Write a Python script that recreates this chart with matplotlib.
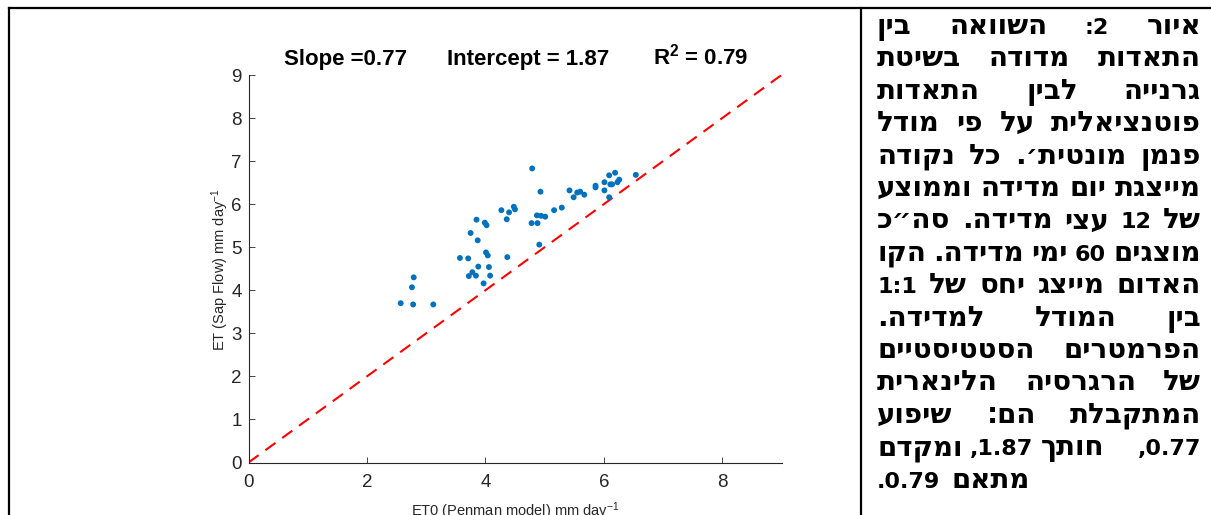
import matplotlib
matplotlib.use("Agg")
import matplotlib.pyplot as plt
from matplotlib.lines import Line2D

plt.rcParams['font.family'] = ['Liberation Sans', 'DejaVu Sans']
plt.rcParams['mathtext.fontset'] = 'custom'
plt.rcParams['mathtext.rm'] = 'Liberation Sans'
plt.rcParams['mathtext.it'] = 'Liberation Sans:italic'
plt.rcParams['mathtext.bf'] = 'Liberation Sans:bold'

# measured days: ET0 (Penman) vs ET (sap flow), mm/day
et0 = [2.57, 2.78, 2.76, 2.79, 3.12, 3.57, 3.71, 3.75, 3.85, 3.87, 3.99, 4.02,
       4.01, 4.04, 3.72, 3.78, 3.84, 3.88, 3.97, 4.06, 4.08, 4.37, 4.27, 4.40,
       4.36, 4.48, 4.50, 4.79, 4.93, 4.78, 4.88, 4.87, 4.94, 5.01, 4.91, 5.16,
       5.29, 5.42, 5.49, 5.55, 5.60, 5.67, 5.86, 5.86, 6.01, 6.01, 6.09, 6.11,
       6.14, 6.19, 6.23, 6.26, 6.09, 6.54]
et_sap = [3.70, 3.67, 4.07, 4.30, 3.67, 4.75, 4.74, 5.33, 5.64, 5.16, 5.57, 5.51,
          4.88, 4.81, 4.33, 4.42, 4.34, 4.55, 4.16, 4.54, 4.34, 4.77, 5.86, 5.81,
          5.65, 5.94, 5.88, 6.83, 6.29, 5.56, 5.56, 5.74, 5.73, 5.71, 5.06, 5.86,
          5.92, 6.32, 6.16, 6.27, 6.29, 6.22, 6.43, 6.39, 6.51, 6.32, 6.67, 6.46,
          6.46, 6.73, 6.51, 6.57, 6.16, 6.68]
one_to_one = [0, 9]

x_ticks = [0, 2, 4, 6, 8]
y_ticks = list(range(10))
stats = ["Slope =0.77", "Intercept = 1.87", r"$\mathbf{R^2}$ = 0.79"]

# caption in logical (reading) order; spaces are justified, NBSP keeps natural spacing
caption_lines = [
    "איור 2: השוואה בין",
    "התאדות מדודה בשיטת",
    "גרנייה לבין התאדות",
    "פוטנציאלית על פי מודל",
    "פנמן מונטית׳. כל נקודה",
    "מייצגת יום מדידה וממוצע",
    "של 12 עצי מדידה. סה״כ",
    "מוצגים 60 ימי מדידה. הקו",
    "האדום מייצג יחס של 1:1",
    "בין המודל למדידה.",
    "הפרמטרים הסטטיסטיים",
    "של הרגרסיה הלינארית",
    "המתקבלת הם: שיפוע",
    "0.77, חותך\u00a01.87,\u00a0ומקדם",
    "מתאם 0.79.",
]

W, H = 1211, 515
fig = plt.figure(figsize=(W / 100, H / 100), dpi=100)

def px(x, y):
    return x / W, 1 - y / H

# axes box in pixels
ax_l, ax_r, ax_t, ax_b = 248.5, 781.5, 75, 462.5
ax = fig.add_axes([ax_l / W, 1 - ax_b / H, (ax_r - ax_l) / W, (ax_b - ax_t) / H])

ax.plot(one_to_one, one_to_one, color='red', ls=(0, (6, 4)), lw=1.5, zorder=2)
ax.scatter(et0, et_sap, s=18, color='#0072BD', edgecolors='none', zorder=3)

ax.set_xlim(0, 9)
ax.set_ylim(0, 9)
ax.set_xticks(x_ticks)
ax.set_yticks(y_ticks)
for s in ['top', 'right']:
    ax.spines[s].set_visible(False)
for s in ['left', 'bottom']:
    ax.spines[s].set_color('#262626')
    ax.spines[s].set_linewidth(0.8)
ax.tick_params(direction='in', length=4.5, width=0.6, colors='#262626',
               labelsize=13.5)
ax.tick_params(axis='y', pad=5)
ax.tick_params(axis='x', pad=8)

for txt, xf in zip(stats, [0.0657, 0.373, 0.758]):
    ax.text(xf, (ax_b - 65) / (ax_b - ax_t), txt, transform=ax.transAxes,
            fontsize=16, fontweight='bold', ha='left', va='baseline')

fig.text(*px(220, 270), "ET (Sap Flow) mm day$^{-1}$", rotation=90,
         fontsize=10.5, color='#262626', ha='center', va='center')
fig.text(*px(515, 516), "ET0 (Penman model) mm day$^{-1}$",
         fontsize=10.5, color='#262626', ha='center', va='baseline')

# table borders
lw_b = 1.6
fig.add_artist(Line2D([9 / W, 1], [1 - 8 / H] * 2, color='black', lw=lw_b,
                      transform=fig.transFigure))
fig.add_artist(Line2D([9 / W] * 2, [0, 1 - 8 / H], color='black', lw=lw_b,
                      transform=fig.transFigure))
fig.add_artist(Line2D([861 / W] * 2, [0, 1 - 8 / H], color='black', lw=lw_b,
                      transform=fig.transFigure))


def is_heb(s):
    return any('\u0590' <= c <= '\u05ff' for c in s)


def visual(tok):
    # glyph order for one word inside right-to-left text
    if is_heb(tok):
        return tok[::-1]
    core = tok.rstrip('.,:')
    tail = tok[len(core):]
    return tail[::-1] + core


def style(tok):
    size = 20 if is_heb(tok) else 16
    return dict(fontsize=size, fontweight='bold', family=['DejaVu Sans'])


renderer = fig.canvas.get_renderer()


def text_width(s, **kw):
    t = fig.text(0, 0, s, **kw)
    w = t.get_window_extent(renderer).width
    t.remove()
    return w


sty = dict(fontsize=16, fontweight='bold', family=['DejaVu Sans'])
space = text_width("a a", **sty) - text_width("aa", **sty)


def word_width(word):
    return text_width(visual(word), **style(word))


def chunk_width(chunk):
    words = chunk.split('\u00a0')
    return sum(word_width(w) for w in words) + space * (len(words) - 1)


def place_chunk(chunk, x_right, base):
    # words of one chunk, right-to-left with natural spacing
    x = x_right
    for word in chunk.split('\u00a0'):
        w = word_width(word)
        fig.text(*px(x - w, base), visual(word), ha='left', va='baseline',
                 **style(word))
        x -= w + space


L, R = 877, 1201
y0, dy = 34, 32.4
for i, line in enumerate(caption_lines):
    chunks = line.split(' ')
    widths = [chunk_width(c) for c in chunks]
    base = y0 + i * dy
    if i == len(caption_lines) - 1 or len(chunks) == 1:
        gap = space * 1.5
        x = L + sum(widths) + gap * (len(chunks) - 1)
    else:
        gap = (R - L - sum(widths)) / (len(chunks) - 1)
        x = R
    for c, w in zip(chunks, widths):
        place_chunk(c, x, base)
        x -= w + gap

fig.savefig("out.png", dpi=100)
